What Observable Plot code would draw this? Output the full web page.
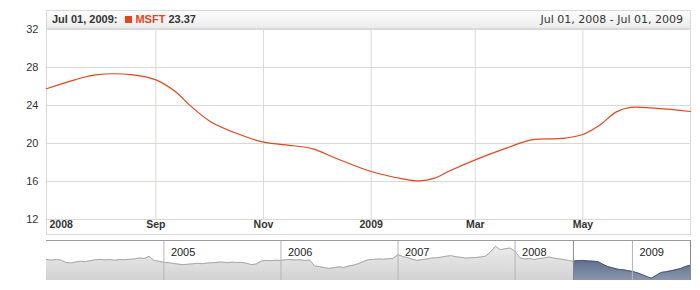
<!DOCTYPE html>
<html>
<head>
<meta charset="utf-8">
<script src="https://cdn.jsdelivr.net/npm/d3@7"></script>
<script src="https://cdn.jsdelivr.net/npm/@observablehq/plot@0.6"></script>
<style>
  body { margin: 0; background: #fff; font-family: "Liberation Sans", Arial, sans-serif; }
  #wrap { position: relative; width: 700px; height: 290px; overflow: hidden; }
  #frame { position: absolute; left: 46px; top: 10px; width: 645px; height: 225px; box-sizing: border-box; border: 1px solid #d9d9d9; }
  #header { position: absolute; left: 0; top: 0; right: 0; height: 17px; border-bottom: 1px solid #d9d9d9;
            background: linear-gradient(#fdfdfd, #ececec); font-size: 11px; color: #333; line-height: 17px; white-space: nowrap; }
  #hleft { position: absolute; left: 5px; top: 0; font-weight: bold; }
  #hleft .sq { display: inline-block; width: 7px; height: 7px; margin: 0 3px 0 8px; vertical-align: -0px; }
  #hright { position: absolute; right: 7px; top: 0; font-family: "DejaVu Sans", Verdana, sans-serif; font-size: 11px; color: #333; }
  #main { position: absolute; left: 0; top: 0; }
  #nav { position: absolute; left: 0; top: 240px; }
  #navTop { position: absolute; left: 46px; top: 240px; width: 644px; height: 0; border-top: 1px solid #9a9a9a; }
</style>
</head>
<body>
<div id="wrap">
  <div id="frame"><div id="header"><span id="hleft"></span><span id="hright"></span></div></div>
  <div id="main"></div>
  <div id="nav"></div>
  <div id="navTop"></div>
</div>
<script>
// ---------- data ----------
const seriesName = "MSFT";
const seriesColor = "#e2461f";

const mainDates = ["2008-07-01","2008-07-17","2008-07-29","2008-08-19","2008-09-01","2008-09-12","2008-09-20",
  "2008-10-02","2008-10-20","2008-11-01","2008-11-18","2008-11-29","2008-12-12","2009-01-01","2009-01-19",
  "2009-01-28","2009-02-06","2009-02-15","2009-03-01","2009-03-19","2009-04-02","2009-04-19","2009-05-01",
  "2009-05-11","2009-05-20","2009-05-28","2009-06-12","2009-07-01"];
const mainValues = [25.76,26.7,27.23,27.23,26.7,25.47,24.07,22.3,20.84,20.14,19.76,19.44,18.45,17.05,16.28,
  16.07,16.35,17.16,18.28,19.54,20.38,20.53,20.95,22.0,23.33,23.8,23.7,23.37];

const yTicks = [12, 16, 20, 24, 28, 32];
const xTickDates = ["2008-07-01","2008-09-01","2008-11-01","2009-01-01","2009-03-01","2009-05-01"];
const xTickLabels = ["2008","Sep","Nov","2009","Mar","May"];
const rangeStart = "2008-07-01";
const rangeEnd = "2009-07-01";

// navigator: semi-monthly closes (1st and 16th of each month) from Jan 2004
const navStart = "2004-01-01";
const nav2004 = [26.9,26.6,27.0,26.5,25.2,24.8,25.4,25.9,25.6,26.2,26.8,27.0,26.7,26.9,26.5,26.9,26.8,27.1,27.3,27.9,27.6,28.9,26.4,25.9];
const nav2005 = [25.2,25.0,24.5,24.1,23.8,24.0,24.3,24.6,24.4,24.8,24.9,25.2,25.4,25.0,25.3,25.1,25.2,24.6,23.8,24.2,26.0,26.4,26.2,26.5];
const nav2006 = [26.4,26.8,26.9,26.6,26.8,26.4,26.6,23.0,22.6,22.0,21.5,22.0,22.4,22.1,23.0,23.5,24.5,25.8,26.8,27.0,27.3,27.1,27.4,27.6];
const nav2007 = [29.9,28.8,28.0,27.0,26.4,26.9,27.2,27.8,28.0,28.4,29.0,29.3,28.6,28.3,27.8,28.0,28.2,28.5,29.0,31.5,35.1,33.0,33.5,34.0];
const nav2008 = [32.0,28.0,27.2,27.6,26.9,27.5,27.9,28.5,27.8,27.4,26.9,26.4,25.8,26.3,26.4,26.0,25.9,25.6,24.0,22.6,21.8,21.0,20.7,20.2];
const nav2009 = [19.6,18.8,17.6,16.4,15.5,17.2,19.0,19.4,20.0,20.6,21.4,22.7,23.4];
const navYears = ["2005-01-01","2006-01-01","2007-01-01","2008-01-01","2009-01-01"];
const navYDomain = [14.07, 38.6];

// ---------- build tables ----------
const parse = d3.utcParse("%Y-%m-%d");
const main = mainDates.map((d, i) => ({date: parse(d), value: mainValues[i]}));
const xTicks = xTickDates.map((d, i) => ({date: parse(d), label: xTickLabels[i]}));
const x0 = parse(rangeStart), x1 = parse(rangeEnd);

const navValues = [].concat(nav2004, nav2005, nav2006, nav2007, nav2008, nav2009);
const n0 = parse(navStart);
const nav = navValues.map((v, i) => {
  const m = d3.utcMonth.offset(n0, Math.floor(i / 2));
  return {date: i % 2 ? d3.utcDay.offset(m, 15) : m, value: v};
});
const navOut = nav.filter(d => d.date <= x0);
const navIn = nav.filter(d => d.date >= x0);

// ---------- header ----------
const fmt = d3.utcFormat("%b %d, %Y");
const last = main[main.length - 1];
document.getElementById("hleft").innerHTML =
  fmt(last.date) + ':<span class="sq" style="background:' + seriesColor + '"></span>' +
  '<span style="color:' + seriesColor + '">' + seriesName + '</span> ' + last.value.toFixed(2);
document.getElementById("hright").textContent = fmt(x0) + " - " + fmt(x1);

// ---------- main chart ----------
const grid = "#d7dbd5";
const mainPlot = Plot.plot({
  width: 700, height: 236,
  marginLeft: 46, marginRight: 10, marginTop: 29, marginBottom: 17,
  style: {background: "transparent", fontFamily: "Liberation Sans, Arial, sans-serif", fontSize: "11px"},
  x: {type: "utc", domain: [x0, x1], axis: null},
  y: {domain: [12, 32], axis: null},
  marks: [
    Plot.ruleY(yTicks, {stroke: grid, strokeWidth: 1}),
    Plot.ruleX(xTicks.slice(1), {x: "date", stroke: grid, strokeWidth: 1}),
    Plot.text(yTicks, {y: d => d, text: d => String(d), frameAnchor: "left", textAnchor: "end", dx: -8, fill: "#333", fontSize: 11}),
    Plot.text(xTicks.slice(0, 1), {x: "date", text: "label", frameAnchor: "bottom", textAnchor: "start", dx: 3, dy: 8, fontWeight: "bold", fontSize: 10.5, fill: "#333"}),
    Plot.text(xTicks.slice(1), {x: "date", text: "label", frameAnchor: "bottom", textAnchor: "middle", dy: 8, fontWeight: "bold", fontSize: 10.5, fill: "#333"}),
    Plot.line(main, {x: "date", y: "value", stroke: seriesColor, strokeWidth: 1.2, curve: "catmull-rom"})
  ]
});
document.getElementById("main").appendChild(mainPlot);

// ---------- navigator ----------
const defs = () => {
  const s = d3.create("svg:defs");
  const g1 = s.append("linearGradient").attr("id", "navGray").attr("x1", 0).attr("y1", 0).attr("x2", 0).attr("y2", 1);
  g1.append("stop").attr("offset", "0%").attr("stop-color", "#ececec");
  g1.append("stop").attr("offset", "100%").attr("stop-color", "#d2d2d2");
  const g2 = s.append("linearGradient").attr("id", "navBlue").attr("x1", 0).attr("y1", 0).attr("x2", 0).attr("y2", 1);
  g2.append("stop").attr("offset", "0%").attr("stop-color", "#5f6d8d");
  g2.append("stop").attr("offset", "100%").attr("stop-color", "#8a96ae");
  return s.node();
};
const navPlot = Plot.plot({
  width: 700, height: 40,
  marginLeft: 46, marginRight: 10, marginTop: 0, marginBottom: 0,
  style: {background: "transparent", fontFamily: "Liberation Sans, Arial, sans-serif", fontSize: "11px"},
  x: {type: "utc", domain: [n0, x1], axis: null},
  y: {domain: navYDomain, axis: null},
  marks: [
    defs,
    Plot.areaY(navOut, {x: "date", y: "value", y1: navYDomain[0], fill: "url(#navGray)"}),
    Plot.areaY(navIn, {x: "date", y: "value", y1: navYDomain[0], fill: "url(#navBlue)"}),
    Plot.line(navOut, {x: "date", y: "value", stroke: "#a6a6a6", strokeWidth: 1}),
    Plot.line(navIn, {x: "date", y: "value", stroke: "#4a5776", strokeWidth: 1}),
    Plot.ruleX(navYears, {x: d => parse(d), stroke: "#b4b4b4", strokeWidth: 1}),
    Plot.ruleX([x0, x1], {stroke: "#8a8a8a", strokeWidth: 1}),
    Plot.text(navYears, {x: d => parse(d), text: d => d.slice(0, 4), frameAnchor: "top", textAnchor: "start", dx: 7, dy: 8, fill: "#222", fontSize: 11})
  ]
});
document.getElementById("nav").appendChild(navPlot);
</script>
</body>
</html>
